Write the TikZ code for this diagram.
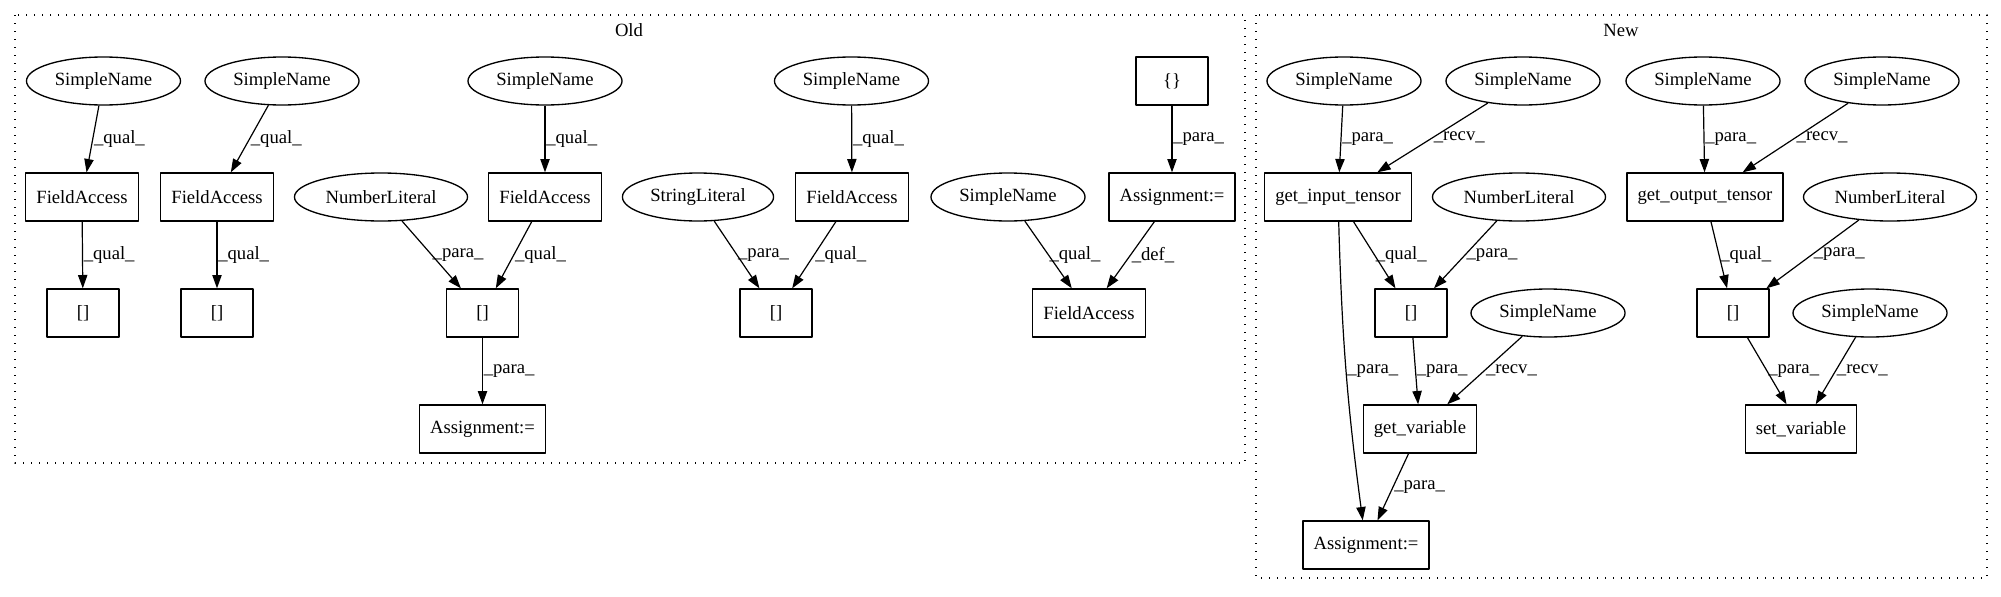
\documentclass[tikz,border=0pt]{standalone}
\usepackage{fontspec}
\setmainfont{Liberation Serif}
\usetikzlibrary{shapes.geometric,arrows.meta}
\begin{document}
\begin{tikzpicture}[x=0.75pt, y=-0.75pt, font=\fontsize{14}{16}\selectfont, line join=round, >={Triangle[length=10pt,width=7pt]},
    box/.style={draw, line width=1pt, rectangle, minimum width=54pt, minimum height=36pt, inner xsep=8pt, inner ysep=0pt},
    ell/.style={draw, line width=1pt, ellipse, minimum height=36pt, inner xsep=4.3pt, inner ysep=0pt},
    edge/.style={->, line width=0.9pt},
    lbl/.style={anchor=west, inner sep=0.5pt},
    cluster/.style={line width=1pt, dash pattern=on 1pt off 5pt}]
    \useasboundingbox (0,0) rectangle (2001,596);
    % clusters
    \draw[cluster] (15,15) rectangle (1245,463);
    \draw[cluster] (1256,15) rectangle (1987,578);
    \node (oldTitle) at (629,30) {Old};
    \node (newTitle) at (1621,30) {New};
    % old
    \node[ell] (oName1) at (103.5,81) {SimpleName};
    \node[ell] (oName2) at (282,81) {SimpleName};
    \node[ell] (oName3) at (545,81) {SimpleName};
    \node[ell] (oName4) at (851.5,81) {SimpleName};
    \node[box] (oBrace) at (1172,81) {\{\}};
    \node[box] (oField1) at (82,197) {FieldAccess};
    \node[box] (oField2) at (217,197) {FieldAccess};
    \node[ell] (oNum) at (381,197) {NumberLiteral};
    \node[box] (oField3) at (545,197) {FieldAccess};
    \node[ell] (oStr) at (698,197) {StringLiteral};
    \node[box] (oField4) at (852,197) {FieldAccess};
    \node[ell] (oName5) at (1008,197) {SimpleName};
    \node[box] (oAsg1) at (1172,197) {Assignment:=};
    \node[box] (oIdx1) at (83,313) {[]};
    \node[box] (oIdx2) at (217,313) {[]};
    \node[box] (oIdx3) at (482.5,313) {[]};
    \node[box] (oIdx4) at (776,313) {[]};
    \node[box] (oField5) at (1089,313) {FieldAccess};
    \node[box] (oAsg2) at (482.5,429) {Assignment:=};
    % new
    \node[ell] (nName1) at (1344,81) {SimpleName};
    \node[ell] (nName2) at (1523,81) {SimpleName};
    \node[ell] (nName3) at (1703,81) {SimpleName};
    \node[ell] (nName4) at (1882,81) {SimpleName};
    \node[box] (nInput) at (1338,197) {get\_input\_tensor};
    \node[ell] (nNum1) at (1519,197) {NumberLiteral};
    \node[box] (nOutput) at (1705,197) {get\_output\_tensor};
    \node[ell] (nNum2) at (1890,197) {NumberLiteral};
    \node[box] (nIdx1) at (1411,313) {[]};
    \node[ell] (nName5) at (1548,313) {SimpleName};
    \node[box] (nIdx2) at (1733,313) {[]};
    \node[ell] (nName6) at (1870,313) {SimpleName};
    \node[box] (nGetVar) at (1420,429) {get\_variable};
    \node[box] (nSetVar) at (1801,429) {set\_variable};
    \node[box] (nAsg) at (1366,545) {Assignment:=};
    % edges
    \foreach \src/\dst/\kind in {oName1/oField1/qual, oName2/oField2/qual, oName3/oField3/qual, oName4/oField4/qual,
        oField1/oIdx1/qual, oField2/oIdx2/qual, oNum/oIdx3/para, oField3/oIdx3/qual, oStr/oIdx4/para, oField4/oIdx4/qual,
        oIdx3/oAsg2/para, oBrace/oAsg1/para, oName5/oField5/qual, oAsg1/oField5/def,
        nName1/nInput/para, nName2/nInput/recv, nName3/nOutput/para, nName4/nOutput/recv,
        nInput/nIdx1/qual, nNum1/nIdx1/para, nOutput/nIdx2/qual, nNum2/nIdx2/para,
        nIdx1/nGetVar/para, nName5/nGetVar/recv, nIdx2/nSetVar/para, nName6/nSetVar/recv, nGetVar/nAsg/para}
        \draw[edge] (\src) -- node[lbl]{\_\kind\_} (\dst);
    \draw[edge] (nInput) to[bend right=3] node[lbl]{\_para\_} (nAsg);
\end{tikzpicture}
\end{document}
